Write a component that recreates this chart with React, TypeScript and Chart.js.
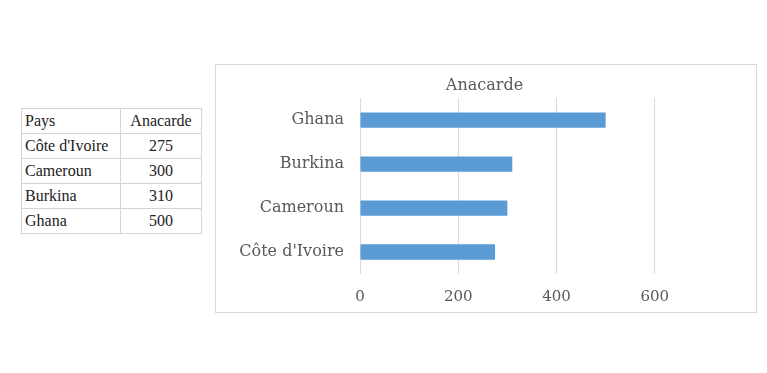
import React, { useEffect, useRef } from "react";
import { Chart, registerables } from "chart.js";

Chart.register(...registerables);

const categories = ["Côte d'Ivoire", "Cameroun", "Burkina", "Ghana"];
const anacarde = [275, 300, 310, 500];
const seriesName = "Anacarde";
const headerPays = "Pays";
const xTicks = [0, 200, 400, 600];

const GRID = "#d9d9d9";
const TEXT = "#595959";
const FONT = "'DejaVu Serif', serif";

export default function App() {
  const ref = useRef<HTMLCanvasElement | null>(null);

  useEffect(() => {
    document.body.style.margin = "0";
    const ctx = ref.current!;
    const chart = new Chart(ctx, {
      type: "bar",
      data: {
        labels: categories,
        datasets: [
          {
            label: seriesName,
            data: anacarde,
            backgroundColor: "#5b9bd5",
            borderWidth: 0,
            barPercentage: 0.7,
            categoryPercentage: 0.5,
          },
        ],
      },
      options: {
        indexAxis: "y",
        animation: false,
        responsive: false,
        maintainAspectRatio: false,
        layout: { padding: { left: 0, right: 3, top: 0, bottom: 0 } },
        plugins: {
          legend: { display: false },
          tooltip: { enabled: false },
          title: {
            display: true,
            text: seriesName,
            color: TEXT,
            font: { family: FONT, size: 16, weight: "normal" },
            padding: { top: 11, bottom: 3 },
          },
        },
        scales: {
          x: {
            min: 0,
            max: 800,
            afterBuildTicks: (scale: any) => {
              scale.ticks = [...xTicks, 800].map((v) => ({ value: v }));
            },
            afterFit: (scale: any) => {
              scale.height = 38;
              scale.paddingLeft = 0;
              scale.paddingRight = 0;
            },
            ticks: {
              color: TEXT,
              font: { family: FONT, size: 15 },
              padding: 14,
              callback: (v: any) => (xTicks.includes(Number(v)) ? String(v) : ""),
            },
            grid: {
              color: (c: any) => (c.tick && c.tick.value === 800 ? "rgba(0,0,0,0)" : GRID),
              drawTicks: false,
            },
            border: { display: false },
          },
          y: {
            reverse: true,
            afterFit: (scale: any) => {
              scale.width = 144;
              scale.paddingTop = 0;
              scale.paddingBottom = 0;
            },
            ticks: {
              color: TEXT,
              font: { family: FONT, size: 16 },
              padding: 16,
            },
            grid: { display: false, drawTicks: false },
            border: { display: false },
          },
        },
      },
    });
    return () => chart.destroy();
  }, []);

  const cell: React.CSSProperties = {
    border: "1px solid #d4d4d4",
    padding: "0 3px",
    height: 24,
    lineHeight: "24px",
  };

  return (
    <div style={{ position: "relative", width: 767, height: 373, background: "#fff" }}>
      <table
        style={{
          position: "absolute",
          left: 21,
          top: 108,
          borderCollapse: "collapse",
          fontFamily: "'Liberation Serif', serif",
          fontSize: 16,
          color: "#222",
        }}
      >
        <tbody>
          <tr>
            <td style={{ ...cell, width: 92 }}>{headerPays}</td>
            <td style={{ ...cell, width: 74, textAlign: "center" }}>{seriesName}</td>
          </tr>
          {categories.map((c, i) => (
            <tr key={c}>
              <td style={cell}>{c}</td>
              <td style={{ ...cell, textAlign: "center" }}>{anacarde[i]}</td>
            </tr>
          ))}
        </tbody>
      </table>
      <div
        style={{
          position: "absolute",
          left: 215,
          top: 64,
          width: 540,
          height: 247,
          border: "1px solid #d9d9d9",
        }}
      >
        <canvas ref={ref} width={540} height={247} style={{ display: "block" }} />
      </div>
    </div>
  );
}
